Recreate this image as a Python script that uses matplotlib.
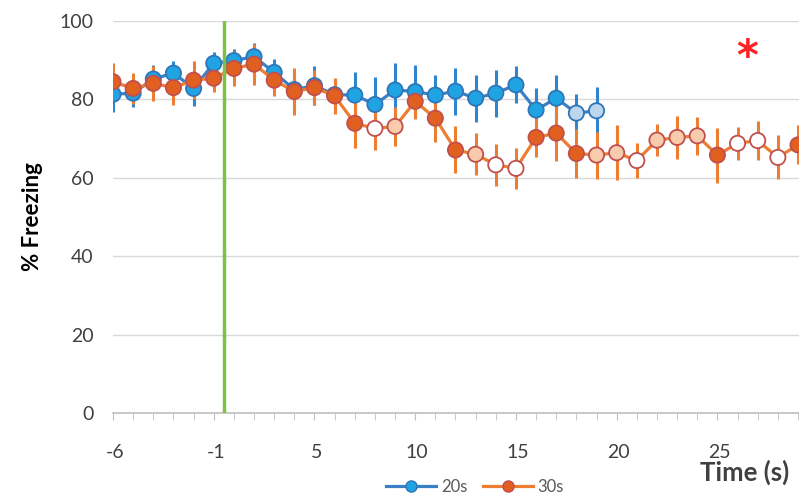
import matplotlib
matplotlib.use("Agg")
import matplotlib.pyplot as plt
import matplotlib.transforms as mtrans
from matplotlib.lines import Line2D

plt.rcParams['font.family'] = ['Lato', 'DejaVu Sans']

# time categories (no zero - excel category axis)
times = [-6, -5, -4, -3, -2, -1] + list(range(1, 30))

# 20s group
blue_vals = [81.3, 81.6, 85.2, 86.7, 82.8, 89.2, 89.9, 90.9, 86.9, 82.5, 83.5, 81.2,
             81.1, 78.7, 82.4, 82.0, 81.1, 82.1, 80.3, 81.6, 83.7, 77.3, 80.3, 76.5, 77.1]
blue_err = [4.5, 3.5, 3.5, 3.0, 4.5, 3.0, 3.0, 3.5, 3.5, 4.5, 5.0, 4.0,
            6.0, 7.0, 7.0, 6.8, 5.0, 6.0, 6.0, 6.0, 4.7, 5.5, 6.0, 5.0, 6.0]
# 'f' = filled, 'p' = pale
blue_kind = ['f'] * 23 + ['p', 'p']

# 30s group
orange_vals = [84.5, 82.8, 84.1, 83.0, 84.9, 85.4, 87.9, 89.0, 84.9, 82.0, 83.0, 80.9,
               73.9, 72.6, 73.1, 79.5, 75.2, 67.1, 66.0, 63.3, 62.4, 70.3, 71.4, 66.2,
               65.8, 66.4, 64.4, 69.6, 70.3, 70.7, 65.8, 68.8, 69.5, 65.2, 68.4]
orange_err = [4.8, 4.0, 4.5, 4.5, 4.8, 3.5, 4.4, 5.2, 4.0, 6.0, 4.5, 4.5,
              6.4, 5.5, 5.0, 4.6, 6.0, 6.0, 5.4, 5.4, 5.3, 5.0, 7.0, 6.2,
              6.0, 7.0, 4.5, 4.0, 5.5, 4.8, 7.0, 4.2, 5.0, 5.6, 5.0]
# 'f' = filled, 'p' = pale, 'w' = open
orange_kind = (['f'] * 13 + ['w', 'p'] + ['f'] * 3 + ['p', 'w', 'w'] + ['f'] * 3
               + ['p', 'p', 'w', 'p', 'p', 'p', 'f', 'w', 'w', 'w', 'f'])

yticks = [0, 20, 40, 60, 80, 100]

BLUE_LINE = '#3b7fc4'
BLUE_FILL = {'f': '#20a3e3', 'p': '#bcd6ee'}
BLUE_EDGE = '#2f76b8'
ORANGE_LINE = '#ed7d31'
ORANGE_FILL = {'f': '#e2601f', 'p': '#f8cbad', 'w': '#ffffff'}
ORANGE_EDGE = '#c0504d'
TXT = '#404040'

fig = plt.figure(figsize=(7.99, 4.97), dpi=100)
ax = fig.add_axes([113 / 799, 1 - 413 / 497, 686 / 799, 392 / 497])

xb = list(range(len(blue_vals)))
xo = list(range(len(orange_vals)))

ax.errorbar(xb, blue_vals, yerr=blue_err, fmt='none', ecolor='#2f86d0', elinewidth=2.2, zorder=3)
ax.errorbar(xo, orange_vals, yerr=orange_err, fmt='none', ecolor=ORANGE_LINE, elinewidth=2.2, zorder=3)

ax.plot(xb, blue_vals, color=BLUE_LINE, lw=2.3, zorder=4)
ax.scatter(xb, blue_vals, s=120, c=[BLUE_FILL[k] for k in blue_kind],
           edgecolors=BLUE_EDGE, linewidths=1.3, zorder=5)
ax.plot(xo, orange_vals, color=ORANGE_LINE, lw=2.3, zorder=6)
ax.scatter(xo, orange_vals, s=120, c=[ORANGE_FILL[k] for k in orange_kind],
           edgecolors=ORANGE_EDGE, linewidths=1.3, zorder=7)

# stimulus onset (between -1 and 1)
ax.axvline(5.5, color='#7dc242', lw=2.5, zorder=8)

ax.set_xlim(0, 34.05)
ax.set_ylim(0, 100)

ax.set_yticks(yticks)
ax.yaxis.grid(True, color='#d9d9d9', lw=1)
ax.set_axisbelow(True)
ax.tick_params(axis='y', length=0, pad=14, labelsize=14, labelcolor=TXT)

ax.set_xticks(range(len(orange_vals)), minor=True)
ax.set_xticks(range(0, len(orange_vals), 5))
ax.set_xticklabels([str(times[i]) for i in range(0, len(orange_vals), 5)])
ax.tick_params(axis='x', which='both', length=5, color='#bfbfbf', direction='out')
ax.tick_params(axis='x', which='major', pad=17, labelsize=14, labelcolor=TXT)
off = mtrans.ScaledTranslation(2 / 100, 0, fig.dpi_scale_trans)
for lab in ax.get_xticklabels():
    lab.set_transform(lab.get_transform() + off)

for s in ['top', 'right', 'left']:
    ax.spines[s].set_visible(False)
ax.spines['bottom'].set_color('#bfbfbf')
ax.spines['bottom'].set_linewidth(1.2)

ax.set_ylabel('% Freezing', fontsize=16, fontweight='bold', color='black', labelpad=12)
fig.text(745 / 799, 1 - 472 / 497, 'Time (s)', fontsize=18.5, fontweight='bold',
         color='#404040', ha='center', va='center')
fig.text(747 / 799, 1 - 58 / 497, '*', fontsize=30, color='#ff2020', ha='center', va='center',
         family='DejaVu Sans', fontweight='bold')

handles = [Line2D([], [], color=BLUE_LINE, lw=2.3, marker='o', ms=8, mfc=BLUE_FILL['f'], mec=BLUE_EDGE),
           Line2D([], [], color=ORANGE_LINE, lw=2.3, marker='o', ms=8, mfc=ORANGE_FILL['f'], mec=ORANGE_EDGE)]
fig.legend(handles, ['20s', '30s'], loc='center', bbox_to_anchor=(475 / 799, 1 - 487 / 497),
           ncol=2, frameon=False, fontsize=12, labelcolor='#595959', handlelength=3,
           columnspacing=0.9, handletextpad=0.3)

fig.savefig('out.png', dpi=100)
